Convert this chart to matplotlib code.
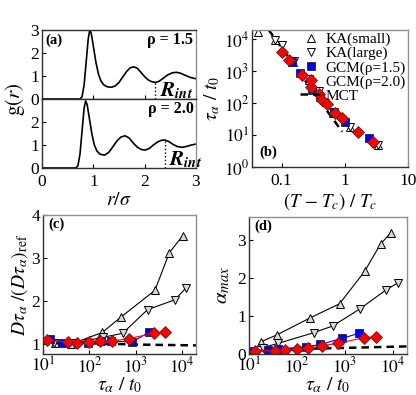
import numpy as np
import matplotlib
matplotlib.use("Agg")
from matplotlib import pyplot as plt
from matplotlib.ticker import FixedLocator, NullLocator, FuncFormatter

plt.rcParams['font.family'] = ['Liberation Serif', 'DejaVu Serif']
plt.rcParams['mathtext.fontset'] = 'stix'

# ---- (a) g(r)
r_15 = [0, 0.74, 0.78, 0.82, 0.86, 0.90, 0.93, 0.96, 1.00, 1.05, 1.10, 1.15, 1.20, 1.27, 1.35,
        1.42, 1.50, 1.58, 1.65, 1.72, 1.79, 1.86, 1.93, 2.00, 2.07, 2.14, 2.21, 2.28, 2.36,
        2.45, 2.54, 2.62, 2.70, 2.80, 2.90, 3.00]
g_15 = [0, 0, 0.1, 0.6, 1.6, 2.6, 3.0, 2.85, 2.3, 1.6, 1.08, 0.78, 0.62, 0.53, 0.51,
        0.56, 0.72, 0.98, 1.2, 1.36, 1.40, 1.33, 1.15, 0.97, 0.83, 0.75, 0.72, 0.77, 0.9,
        1.05, 1.14, 1.16, 1.12, 1.02, 0.93, 0.88]
r_20 = [0, 0.66, 0.70, 0.74, 0.78, 0.82, 0.85, 0.88, 0.92, 0.97, 1.02, 1.07, 1.13, 1.22,
        1.30, 1.38, 1.46, 1.54, 1.62, 1.70, 1.78, 1.86, 1.94, 2.01, 2.09, 2.17, 2.25, 2.32,
        2.39, 2.47, 2.55, 2.64, 2.73, 2.82, 2.91, 3.00]
g_20 = [0, 0, 0.1, 0.6, 1.6, 2.6, 2.92, 2.75, 2.2, 1.5, 1.0, 0.74, 0.6, 0.56,
        0.68, 0.92, 1.18, 1.35, 1.40, 1.30, 1.08, 0.9, 0.8, 0.78, 0.85, 1.0, 1.13, 1.2,
        1.22, 1.15, 1.03, 0.93, 0.9, 0.94, 1.0, 1.04]
rint_15 = [2.21, 0.72]
rint_20 = [2.39, 1.22]

# ---- (b) tau_alpha vs (T-Tc)/Tc
b_kas_x = [0.043, 0.080, 0.150, 0.275, 0.39, 0.65, 1.23, 3.4]
b_kas_y = [1.66e4, 9.0e3, 1.9e3, 5.4e2, 2.2e2, 5.0e1, 1.8e1, 4.9]
b_kal_x = [0.078, 0.10, 0.155, 0.27, 0.39, 0.66, 1.23, 3.4]
b_kal_y = [9.5e3, 6.5e3, 2.1e3, 5.5e2, 2.3e2, 5.2e1, 1.8e1, 5.0]
b_g15_x = [0.145, 0.195, 0.30, 0.41, 0.67, 1.02, 2.4]
b_g15_y = [1.9e3, 8.8e2, 2.6e2, 1.5e2, 5.3e1, 2.6e1, 7.9]
b_g20_x = [0.102, 0.132, 0.208, 0.29, 0.39, 0.44, 0.53, 0.71, 0.91, 1.62, 2.75]
b_g20_y = [3.9e3, 2.2e3, 7.7e2, 3.1e2, 1.9e2, 1.24e2, 9.1e1, 5.0e1, 3.3e1, 1.27e1, 6.2]
b_mct_x = [0.062, 0.91]
b_mct_y = [1.95e4, 12.6]

# ---- (c) D tau / (D tau)_ref vs tau
c_kas_t = [18, 40, 190, 470, 2600, 5300, 1.03e4]
c_kas_v = [1.03, 1.0, 1.27, 1.62, 2.25, 3.12, 3.52]
c_kal_t = [17, 46, 200, 520, 1800, 7000, 1.2e4]
c_kal_v = [1.02, 1.02, 1.16, 1.25, 1.80, 2.03, 2.30]
c_g15_t = [14, 26, 95, 175, 300, 850, 1950]
c_g15_v = [1.12, 1.03, 1.02, 1.07, 1.07, 1.05, 1.28]
c_g20_t = [12.4, 34, 54, 96, 174, 310, 716, 2500, 4300]
c_g20_v = [1.09, 1.05, 1.02, 1.05, 1.07, 1.07, 1.13, 1.25, 1.29]
c_mct_t = [10, 100, 1000, 2e4]
c_mct_v = [1.05, 1.02, 0.99, 0.97]

# ---- (d) alpha_max vs tau
d_kas_t = [17.6, 38, 190, 780, 2600, 5600, 9100]
d_kas_v = [0.32, 0.50, 0.95, 1.32, 2.17, 2.89, 3.18]
d_kal_t = [19.4, 41, 225, 570, 2100, 7400, 1.3e4]
d_kal_v = [0.17, 0.28, 0.56, 0.74, 1.19, 1.69, 1.87]
d_g15_t = [12.3, 25, 41, 157, 310, 870, 1950]
d_g15_v = [0.09, 0.10, 0.13, 0.19, 0.25, 0.41, 0.54]
d_g20_t = [13.4, 35, 57, 100, 175, 330, 740, 2500, 4600]
d_g20_v = [0.08, 0.09, 0.10, 0.13, 0.15, 0.22, 0.28, 0.43, 0.45]
d_mct_t = [10, 100, 1000, 2e4]
d_mct_v = [0.10, 0.13, 0.16, 0.20]

W, H = 416, 395
fig = plt.figure(figsize=(W / 100, H / 100), dpi=100)


def box(l, t, r, b):
    return [l / W, 1 - b / H, (r - l) / W, (b - t) / H]


def style(ax, xpad=4):
    for s in ['left', 'bottom']:
        ax.spines[s].set_color('#303030')
    for s in ['top', 'right']:
        ax.spines[s].set_color('#909090')
    for s in ax.spines.values():
        s.set_linewidth(1.0)
    ax.tick_params(direction='in', labelsize=12.5, length=3, width=0.8, pad=2)
    ax.tick_params(axis='x', pad=xpad)


tri_kw = dict(markeredgecolor='black', markeredgewidth=0.7)
sci = FuncFormatter(lambda v, p: r'$10^{%d}$' % round(np.log10(v)))

# (a)
axa1 = fig.add_axes(box(42, 30, 196, 99))
axa2 = fig.add_axes(box(42, 99, 196, 168))
for ax, rr, gg, ri, lab in [(axa1, r_15, g_15, rint_15, 'ρ = 1.5'),
                            (axa2, r_20, g_20, rint_20, 'ρ = 2.0')]:
    ax.plot(rr, gg, color='black', lw=1.2)
    ax.plot([ri[0], ri[0]], [0, ri[1]], color='black', lw=1.0, ls=':')
    ax.text(ri[0] + 0.08, 0.12, r'$\mathbfit{R}_{\mathbfit{int}}$', fontsize=15)
    ax.text(2.95, 2.55, lab, fontsize=11.5, fontweight='bold', ha='right', va='center')
    ax.set_xlim(0, 3)
    ax.set_ylim(0, 3)
    ax.xaxis.set_major_locator(FixedLocator([0, 1, 2, 3]))
    style(ax)
    ax.spines['top'].set_color('#303030')
axa1.set_yticks([0, 1, 2, 3])
axa1.set_xticklabels([])
axa1.text(0.06, 2.55, '(a)', fontsize=10.5, fontweight='bold', va='center')
axa2.set_yticks([0, 1, 2])
axa2.set_xlabel(r'$r/\sigma$', fontsize=14, labelpad=2)
fig.text(0.035, (1 - 99 / H), r'$\mathrm{g}(r)$', fontsize=15, rotation=90, ha='center', va='center')

# (b)
axb = fig.add_axes(box(252, 30, 408, 167))
axb.set_xscale('log')
axb.set_yscale('log')
axb.plot(b_mct_x, b_mct_y, color='black', ls=(0, (3, 2)), lw=1.8, label='MCT', zorder=2)
axb.plot(b_kas_x, b_kas_y, ls='none', marker='^', ms=5.5, mfc='white', label='KA(small)', **tri_kw)
axb.plot(b_kal_x, b_kal_y, ls='none', marker='v', ms=5.5, mfc='white', label='KA(large)', **tri_kw)
axb.plot(b_g15_x, b_g15_y, ls='none', marker='s', ms=5.5, mfc='#0000ee', mec='#202050', mew=0.6,
         label='GCM(ρ=1.5)')
axb.plot(b_g20_x, b_g20_y, ls='none', marker='D', ms=6, mfc='#ff0000', mec='#602020', mew=0.6,
         label='GCM(ρ=2.0)')
axb.set_xlim(0.034, 10)
axb.set_ylim(1, 1.9e4)
axb.xaxis.set_major_locator(FixedLocator([0.1, 1, 10]))
axb.xaxis.set_minor_locator(NullLocator())
axb.xaxis.set_major_formatter(FuncFormatter(lambda v, p: '%g' % v))
axb.yaxis.set_major_locator(FixedLocator([1, 10, 100, 1000, 1e4]))
axb.yaxis.set_minor_locator(NullLocator())
axb.yaxis.set_major_formatter(sci)
style(axb)
h, l = axb.get_legend_handles_labels()
order = [1, 2, 3, 4, 0]
axb.legend([h[i] for i in order], [l[i] for i in order], loc='upper right', frameon=False,
           fontsize=11, handlelength=1.4, handletextpad=0.25, labelspacing=0.02,
           borderaxespad=0.05, borderpad=0.1)
axb.text(0.045, 2.2, '(b)', fontsize=10.5, fontweight='bold')
axb.set_xlabel(r'$(T\ \mathrm{-}\ T_c)\ /\ T_c$', fontsize=13.5, labelpad=2)
axb.set_ylabel(r'$\tau_\alpha\ /\ t_0$', fontsize=14, labelpad=1)

# (c) and (d)
axc = fig.add_axes(box(43, 215, 196, 354))
axd = fig.add_axes(box(249, 217, 407, 354))
for ax, kas, kal, g15, g20, mct in [
        (axc, (c_kas_t, c_kas_v), (c_kal_t, c_kal_v), (c_g15_t, c_g15_v), (c_g20_t, c_g20_v),
         (c_mct_t, c_mct_v)),
        (axd, (d_kas_t, d_kas_v), (d_kal_t, d_kal_v), (d_g15_t, d_g15_v), (d_g20_t, d_g20_v),
         (d_mct_t, d_mct_v))]:
    ax.set_xscale('log')
    ax.plot(*mct, color='black', ls=(0, (3, 2)), lw=1.8, zorder=2)
    ax.plot(*kas, color='black', lw=0.8, marker='^', ms=6, mfc='#d8d8d8', **tri_kw)
    ax.plot(*kal, color='black', lw=0.8, marker='v', ms=6, mfc='#d8d8d8', **tri_kw)
    ax.plot(*g15, color='#0000ee', lw=0.8, marker='s', ms=5.5, mfc='#0000ee', mec='#202050', mew=0.6)
    ax.plot(*g20, color='#ff0000', lw=0.8, marker='D', ms=6, mfc='#ff0000', mec='#602020', mew=0.6)
    ax.set_xlim(10, 2e4)
    ax.xaxis.set_major_locator(FixedLocator([10, 100, 1000, 1e4]))
    ax.xaxis.set_minor_locator(NullLocator())
    ax.xaxis.set_major_formatter(sci)
    ax.set_xlabel(r'$\tau_\alpha\ /\ t_0$', fontsize=14, labelpad=-1)
    style(ax, xpad=2)

axc.set_ylim(0.77, 4.0)
axc.set_yticks([1, 2, 3, 4])
axc.text(13, 3.7, '(c)', fontsize=10.5, fontweight='bold')
axc.set_ylabel(r'$D\tau_\alpha\ /(D\tau_\alpha)_{\mathrm{ref}}$', fontsize=14, labelpad=1)

axd.set_ylim(0, 3.6)
axd.set_yticks([0, 1, 2, 3])
axd.text(13, 3.25, '(d)', fontsize=10.5, fontweight='bold')
axd.set_ylabel(r'$\alpha_{max}$', fontsize=15, labelpad=4)

fig.savefig('out.png', dpi=100)
